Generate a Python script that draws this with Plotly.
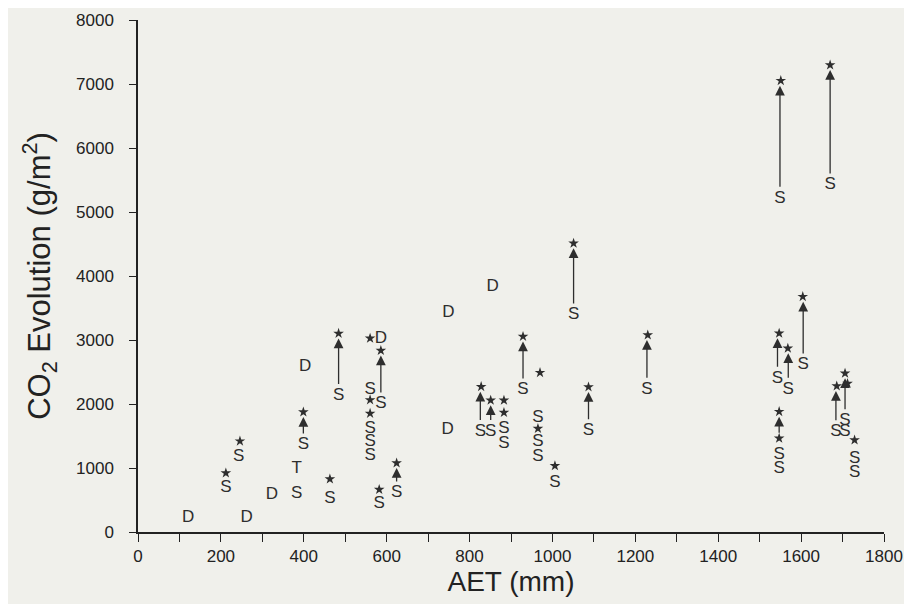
import plotly.graph_objects as go

# --- data (AET mm, CO2 g/m2) ---
s_x = [212, 243, 383, 399, 463, 484, 560, 560, 560, 560, 586, 582, 624, 826, 851, 883, 883,
       929, 965, 965, 965, 1006, 1087, 1051, 1228, 1549, 1670, 1605, 1543, 1569, 1547, 1547,
       1684, 1706, 1706, 1729, 1729]
s_y = [688, 1180, 594, 1359, 516, 2133, 2219, 1609, 1406, 1188, 2000, 438, 609, 1570, 1570, 1617, 1383,
       2219, 1781, 1406, 1177, 770, 1583, 3391, 2230, 5214, 5422, 2609, 2402, 2230, 1203, 985,
       1567, 1567, 1739, 1150, 920]

star_x = [212, 246, 399, 463, 484, 560, 560, 560, 586, 582, 624, 828, 851, 883, 883, 929, 970, 965,
          1006, 1087, 1051, 1230, 1551, 1670, 1604, 1547, 1568, 1547, 1547, 1686, 1706, 1712, 1729]
star_y = [922, 1420, 1875, 828, 3102, 3026, 2063, 1852, 2836, 664, 1078, 2270, 2058, 2058, 1867, 3055, 2489, 1617,
          1034, 2266, 4511, 3078, 7052, 7297, 3677, 3105, 2870, 1880, 1464, 2281, 2480, 2320, 1437]

d_x = [121, 262, 323, 403, 586, 747, 749, 856]
d_y = [219, 230, 578, 2583, 3026, 1605, 3427, 3833]

t_x = [383]
t_y = [984]

# arrows: x, from y, to y, tail kind
arr_x = [399, 484, 586, 624, 826, 851, 929, 1087, 1051, 1228, 1549, 1670, 1605, 1543, 1569, 1547, 1684, 1706, 1729]
arr_y0 = [1359, 2133, 2000, 609, 1570, 1570, 2219, 1583, 3391, 2230, 5214, 5422, 2609, 2402, 2230, 1464, 1567, 1739, 1150]
arr_y1 = [1875, 3102, 2836, 1078, 2270, 2058, 3055, 2266, 4511, 3078, 7052, 7297, 3677, 3105, 2870, 1880, 2281, 2480, 1437]
arr_tail = ["S"] * 15 + ["*"] + ["S"] * 3

x_ticks = list(range(0, 1801, 200))
y_ticks = list(range(0, 8001, 1000))

ink = "#2e2e2e"
bg = "#f0f0eb"
font = "Liberation Sans, Arial, sans-serif"
lab = dict(family=font, size=17, color=ink)

fig = go.Figure()
fig.add_trace(go.Scatter(x=s_x, y=s_y, mode="text", text=["S"] * len(s_x),
                         textfont=lab, hoverinfo="skip"))
fig.add_trace(go.Scatter(x=d_x, y=d_y, mode="text", text=["D"] * len(d_x),
                         textfont=lab, hoverinfo="skip"))
fig.add_trace(go.Scatter(x=t_x, y=t_y, mode="text", text=["T"] * len(t_x),
                         textfont=lab, hoverinfo="skip"))
fig.add_trace(go.Scatter(x=star_x, y=star_y, mode="markers",
                         marker=dict(symbol="star", size=8, color=ink, line=dict(width=0)),
                         hoverinfo="skip"))

for x, y0, y1, k in zip(arr_x, arr_y0, arr_y1, arr_tail):
    fig.add_annotation(x=x, y=y1, ax=x, ay=y0, xref="x", yref="y", axref="x", ayref="y",
                       text="", showarrow=True, arrowhead=2, arrowsize=1.5, arrowwidth=1.3,
                       arrowcolor=ink, standoff=5, startstandoff=(10 if k == "S" else 4))

fig.update_layout(
    width=896, height=596, showlegend=False,
    paper_bgcolor=bg, plot_bgcolor=bg,
    margin=dict(l=130, r=20, t=12, b=72),
    font=dict(family=font, color="#222"),
)
fig.update_xaxes(range=[0, 1800], tickvals=x_ticks, ticks="outside", ticklen=8, tickwidth=1.2,
                 tickcolor="#222", showline=True, linecolor="#222", linewidth=1.5, automargin=False,
                 showgrid=False, zeroline=False, tickfont=dict(size=17, color="#222"),
                 minor=dict(dtick=100, ticks="outside", ticklen=8, tickwidth=1.2, tickcolor="#222", showgrid=False),
                 title=dict(text="AET (mm)", font=dict(size=28, color="#222"), standoff=6))
fig.update_yaxes(range=[0, 8000], tickvals=y_ticks, ticks="outside", ticklen=7, tickwidth=1.2,
                 tickcolor="#222", showline=True, linecolor="#222", linewidth=1.5, automargin=False,
                 showgrid=False, zeroline=False, tickfont=dict(size=17, color="#222"),
                 ticklabelstandoff=12,
                 title=dict(text="CO<sub>2</sub> Evolution (g/m<sup>2</sup>)", font=dict(size=31, color="#222"),
                            standoff=16))

fig.write_html("out.html")
